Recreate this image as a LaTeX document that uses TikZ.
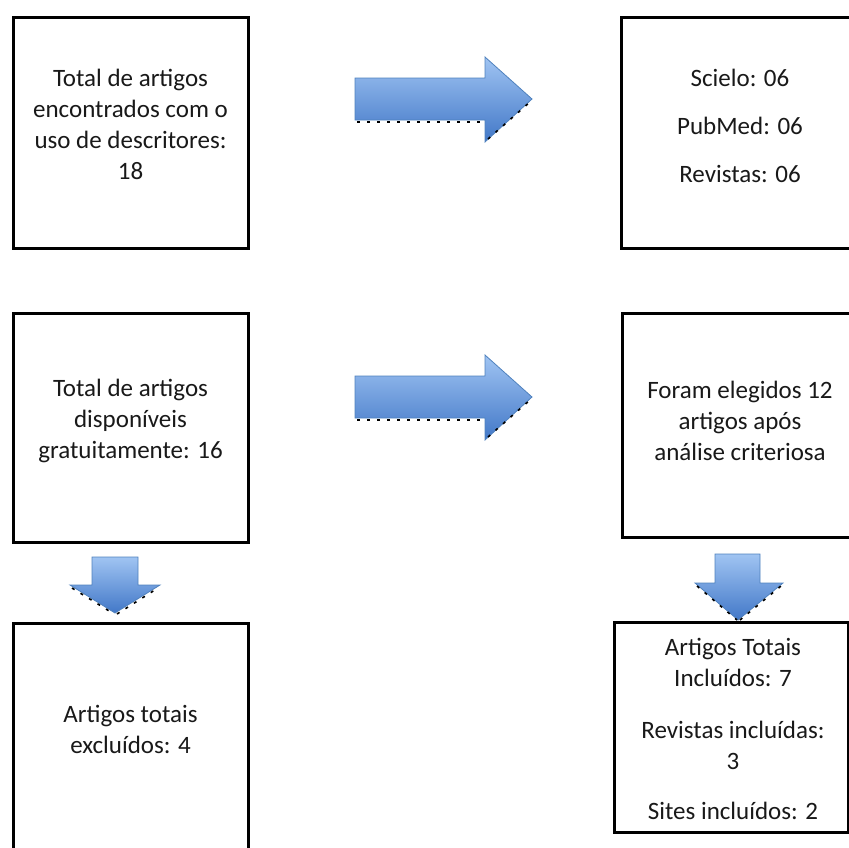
\documentclass[tikz,border=0pt]{standalone}
\usepackage{fontspec}
\setmainfont{Carlito}
\begin{document}
\begin{tikzpicture}[x=1pt,y=-1pt,
  box/.style={draw=black,line width=3pt,fill=white,inner sep=0pt},
  txt/.style={align=center,font=\fontsize{25}{31}\selectfont,text=black!90,inner sep=0pt},
  blockarrow/.style={draw={rgb,255:red,79;green,129;blue,189},line width=0.8pt,top color={rgb,255:red,160;green,196;blue,242},bottom color={rgb,255:red,66;green,120;blue,200},shading angle=0},
  shadowline/.style={draw=black,line width=1.6pt,dash pattern=on 3pt off 7pt}]
\useasboundingbox (0,0) rectangle (849,847);
% boxes
\node[box,minimum width=235pt,minimum height=231pt] (b1) at (130.5,132.5) {};
\node[box,minimum width=241pt,minimum height=231pt] (b2) at (741.5,132.5) {};
\node[box,minimum width=235pt,minimum height=229pt] (b3) at (130.5,428) {};
\node[box,minimum width=240pt,minimum height=224pt] (b4) at (742,425) {};
\node[box,minimum width=235pt,minimum height=240pt] (b5) at (130.5,743) {};
\node[box,minimum width=234pt,minimum height=210pt] (b6) at (731,727) {};
% texts
\node[txt] (t1) at (130.5,124) {Total de artigos\\encontrados com o\\uso de descritores:\\18};
\node[txt] (t2) at (740,126) {Scielo: 06\\[17pt]PubMed: 06\\[17pt]Revistas: 06};
\node[txt] (t3) at (130.5,421) {Total de artigos\\disponíveis\\gratuitamente: 16};
\node[txt] (t4) at (740,421) {Foram elegidos 12\\artigos após\\análise criteriosa};
\node[txt] (t5) at (130.5,729) {Artigos totais\\excluídos: 4};
\node[txt] (t6) at (733,729) {Artigos Totais\\Incluídos: 7\\[21pt]Revistas incluídas:\\3\\[19pt]Sites incluídos: 2};
% right arrows
\foreach \dy/\nm in {0/ra1,298/ra2}{
  \begin{scope}[yshift=-\dy pt]
  \path[blockarrow] (355,78) -- (485,78) -- (485,57) -- (532,99) -- (485,142) -- (485,120) -- (355,120) -- cycle;
  \draw[shadowline] (357,122) -- (484,122);
  \draw[shadowline] (488,139) -- (530,102);
  \coordinate (\nm) at (443,99);
  \end{scope}
}
% down arrows
\path[blockarrow] (92,557) -- (138,557) -- (138,585) -- (160,585) -- (115,613) -- (70,585) -- (92,585) -- cycle;
\draw[shadowline] (72,588) -- (114,614);
\draw[shadowline] (117,614) -- (158,588);
\path[blockarrow] (715,554) -- (760,554) -- (760,583) -- (783,583) -- (738,620) -- (695,583) -- (715,583) -- cycle;
\draw[shadowline] (697,586) -- (737,620);
\draw[shadowline] (740,620) -- (781,586);
\end{tikzpicture}
\end{document}
